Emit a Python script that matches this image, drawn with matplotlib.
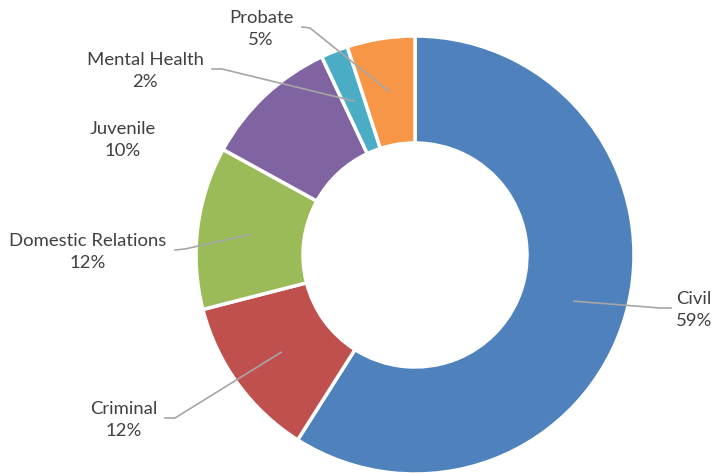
"""
Donut chart of case types by share of filings.
"""

import numpy as np
import matplotlib.pyplot as plt

plt.rcParams['font.family'] = ['Lato', 'DejaVu Sans']

categories = ["Civil", "Criminal", "Domestic Relations", "Juvenile", "Mental Health", "Probate"]
shares = [59, 12, 12, 10, 2, 5]
colors = ["#4F81BD", "#C0504D", "#9BBB59", "#8064A2", "#4BACC6", "#F79646"]

# layout (pixel coords, y from top): label centre, elbow start, elbow end
label_pos = {
    "Civil": (694, 310),
    "Criminal": (124, 420),
    "Domestic Relations": (88, 252),
    "Juvenile": (123, 140),
    "Mental Health": (145, 71),
    "Probate": (261, 29),
}
elbows = {
    "Civil": ((671, 309), (660, 309)),
    "Criminal": ((165, 419), (175, 419)),
    "Domestic Relations": ((175, 251), (185, 250)),
    "Mental Health": ((212, 70), (222, 70)),
    "Probate": ((302, 28), (310, 29)),
}

W, H = 714, 477
cx, cy = 415, 256
r_out, r_in = 219, 112


def flip(p):
    return p[0], H - p[1]


fig = plt.figure(figsize=(W / 100, H / 100), dpi=100)
ax = fig.add_axes([0, 0, 1, 1])

wedges, _ = ax.pie(shares, colors=colors, startangle=90, counterclock=False,
                   center=(cx, H - cy), radius=r_out, frame=True,
                   wedgeprops=dict(width=r_out - r_in, edgecolor='white', linewidth=2.5))
ax.set_xlim(0, W)
ax.set_ylim(0, H)
ax.axis('off')

r_mid = (r_out + r_in) / 2
for w, name, val in zip(wedges, categories, shares):
    ang = np.deg2rad((w.theta1 + w.theta2) / 2)
    anchor = (cx + r_mid * np.cos(ang), H - cy + r_mid * np.sin(ang))
    tx, ty = flip(label_pos[name])
    ax.text(tx, ty, f"{name}\n{val}%", ha='center', va='center', fontsize=13.3,
            color='#404040', linespacing=1.4)
    if name in elbows:
        p0, p1 = elbows[name]
        xs = [flip(p0)[0], flip(p1)[0], anchor[0]]
        ys = [flip(p0)[1], flip(p1)[1], anchor[1]]
        ax.plot(xs, ys, color='#A6A6A6', linewidth=1.2)

fig.savefig("out.png", dpi=100)
